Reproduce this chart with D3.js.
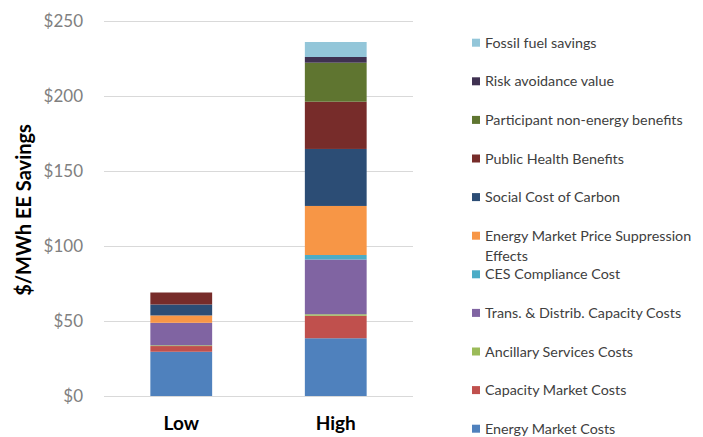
<!DOCTYPE html>
<html>
<head>
<meta charset="utf-8">
<script src="https://cdn.jsdelivr.net/npm/d3@7"></script>
<style>
  body { margin: 0; background: #fff; }
  text { font-family: Lato, "Open Sans", sans-serif; }
</style>
</head>
<body>
<svg id="chart" width="703" height="437"></svg>
<script>
// categories on the x axis
var scenarios = ["Low", "High"];

// stack order, bottom to top
var components = [
  "Energy Market Costs",
  "Capacity Market Costs",
  "Ancillary Services Costs",
  "Trans. & Distrib. Capacity Costs",
  "CES Compliance Cost",
  "Energy Market Price Suppression Effects",
  "Social Cost of Carbon",
  "Public Health Benefits",
  "Participant non-energy benefits",
  "Risk avoidance value",
  "Fossil fuel savings"
];

var lowValues  = [29.5, 3.8, 0.5, 15.0, 0, 4.9, 7.3, 8.0, 0, 0, 0];
var highValues = [38.5, 15.0, 1.0, 36.5, 3.0, 32.7, 38.0, 31.5, 26.0, 3.8, 10.0];

var colors = ["#4f81bd", "#c0504d", "#9bbb59", "#8064a2", "#4bacc6", "#f79646",
              "#2c4d75", "#772c2a", "#5f7530", "#3f3151", "#93c6d9"];

var yTicks = [0, 50, 100, 150, 200, 250];

var svg = d3.select("#chart");

var x = d3.scaleBand()
    .domain(scenarios)
    .range([104, 413])
    .paddingInner(0.6)
    .paddingOuter(0.3);

var y = d3.scaleLinear()
    .domain([0, 250])
    .range([396, 21]);

// gridlines
svg.append("g")
    .selectAll("line")
    .data(yTicks)
    .enter()
    .append("line")
    .attr("x1", 104)
    .attr("x2", 413)
    .attr("y1", function(d){ return y(d) + 0.5 })
    .attr("y2", function(d){ return y(d) + 0.5 })
    .attr("stroke", "#d9d9d9")
    .attr("stroke-width", 1);

// y axis labels
var yAxis = svg.append("g")
    .attr("transform", "translate(88,0)")
    .call(d3.axisLeft(y).tickValues(yTicks).tickSize(0).tickPadding(5)
        .tickFormat(function(d){ return "$" + d }));
yAxis.select(".domain").remove();
yAxis.selectAll("text")
    .attr("fill", "#808080")
    .style("font-size", "17px")
    .style("font-family", "Lato, sans-serif");

// stacked data
var rows = scenarios.map(function(s, i){
    var vals = i === 0 ? lowValues : highValues;
    var row = { scenario: s };
    components.forEach(function(c, j){ row[c] = vals[j] });
    return row;
});

var series = d3.stack().keys(components)(rows);

svg.append("g")
    .selectAll("g")
    .data(series)
    .enter()
    .append("g")
    .attr("fill", function(d, i){ return colors[i] })
    .selectAll("rect")
    .data(function(d){ return d })
    .enter()
    .append("rect")
    .attr("x", function(d){ return x(d.data.scenario) })
    .attr("width", x.bandwidth())
    .attr("y", function(d){ return y(d[1]) })
    .attr("height", function(d){ return y(d[0]) - y(d[1]) });

// x axis labels
var xAxis = svg.append("g")
    .attr("transform", "translate(0,412)")
    .call(d3.axisBottom(x).tickSize(0).tickPadding(4));
xAxis.select(".domain").remove();
xAxis.selectAll("text")
    .attr("fill", "#000")
    .style("font-size", "19px")
    .style("font-weight", "bold")
    .style("font-family", "Lato, sans-serif");

// y axis title
svg.append("text")
    .attr("transform", "translate(31,210) rotate(-90)")
    .attr("text-anchor", "middle")
    .style("font-size", "20px")
    .style("font-weight", "bold")
    .attr("fill", "#000")
    .text("$/MWh EE Savings");

// legend, top to bottom is reverse stack order
var legendItems = components.map(function(c, i){ return { name: c, color: colors[i] } }).reverse();

var legend = svg.append("g")
    .selectAll("g")
    .data(legendItems)
    .enter()
    .append("g")
    .attr("transform", function(d, i){ return "translate(472," + (42.7 + i * 38.6) + ")" });

legend.append("rect")
    .attr("x", 0)
    .attr("y", -4)
    .attr("width", 8)
    .attr("height", 8)
    .attr("fill", function(d){ return d.color });

legend.append("text")
    .attr("x", 13)
    .attr("y", 0)
    .attr("dy", "0.35em")
    .attr("fill", "#404040")
    .style("font-size", "14.3px")
    .each(function(d){
        var t = d3.select(this);
        if (d.name === "Energy Market Price Suppression Effects") {
            t.append("tspan").attr("x", 13).text("Energy Market Price Suppression");
            t.append("tspan").attr("x", 13).attr("dy", "1.4em").text("Effects");
        } else {
            t.text(d.name);
        }
    });
</script>
</body>
</html>
